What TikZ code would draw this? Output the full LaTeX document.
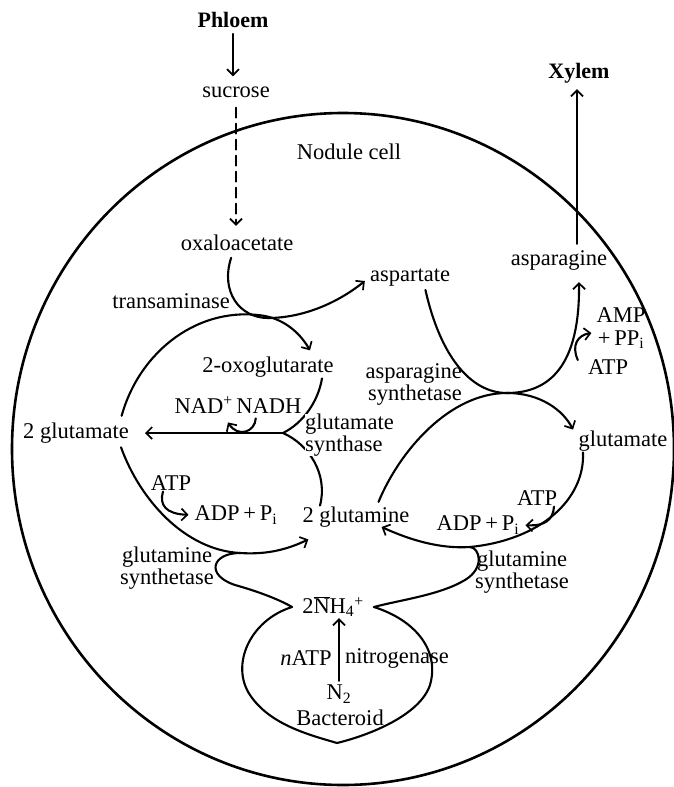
\documentclass[tikz,border=0pt]{standalone}
\usepackage{fontspec}
\setmainfont{Liberation Serif}
\usetikzlibrary{arrows.meta}

\begin{document}
\begin{tikzpicture}[
      x=1pt,y=-1pt,
      lbl/.style={inner sep=1pt,font=\fontsize{22.5}{20}\selectfont,align=center},
      tlbl/.style={inner sep=1pt,font=\fontsize{22}{24}\selectfont\bfseries},
      ln/.style={line width=2.1pt,line cap=round},
      ar/.style={ln,-{Straight Barb[length=6pt,width=12pt,line width=1.7pt]}},
      cell/.style={line width=2.6pt}
    ]
    \fill[white] (0,0) rectangle (673,787);
    \useasboundingbox (0,0) rectangle (673,787);

    % Transport in and out of the cell
    \node(phloem)[tlbl] at (233,20) {Phloem};
    \node(sucrose)[lbl] at (236,92) {sucrose};
    \node(xylem)[tlbl] at (579,73) {Xylem};
    \node(cellname)[lbl] at (349,152) {Nodule cell};

    % Row 1: transaminase and asparagine synthetase
    \node(oxalo)[lbl] at (237,243) {oxaloacetate};
    \node(aspartate)[lbl] at (410,278) {aspartate};
    \node(asparagine)[lbl] at (559,260) {asparagine};
    \node(transam)[lbl] at (171,301) {transaminase};
    \node(oxoglut)[lbl] at (268,367) {2-oxoglutarate};
    \node(asnsyn)[lbl,align=right,anchor=east,font=\fontsize{22.5}{22}\selectfont] at (463,384) {asparagine\\synthetase};
    \node(amp)[lbl,font=\fontsize{22.5}{23}\selectfont] at (621,328) {AMP\\+\,PP\textsubscript{i}};
    \node(atpA)[lbl] at (608,367) {ATP};

    % Row 2: glutamate synthase
    \node(glutL)[lbl] at (76,433) {2 glutamate};
    \node(nad)[lbl] at (238,405) {NAD\textsuperscript{+}\,NADH};
    \node(glutR)[lbl] at (623,441) {glutamate};

    % Row 3: glutamine synthetase
    \node(atpL)[lbl] at (171,483) {ATP};
    \node(adpL)[lbl] at (236,515) {ADP\,+\,P\textsubscript{i}};
    \node(glutamine)[lbl] at (356,517) {2 glutamine};
    \node(atpR)[lbl] at (537,498) {ATP};
    \node(adpR)[lbl] at (478,525) {ADP\,+\,P\textsubscript{i}};
    \node(glnsynL)[lbl] at (167,568) {glutamine\\synthetase};
    \node(glnsynR)[lbl] at (522,572) {glutamine\\synthetase};

    % Bacteroid
    \node(nh)[lbl,inner xsep=10pt] at (333,607) {2$\overline{\hbox{N}}$H\textsubscript{4}\textsuperscript{+}};
    \node(natp)[lbl] at (306,658) {\textit{n}ATP};
    \node(nase)[lbl] at (397,658) {nitrogenase};
    \node(ntwo)[lbl] at (339,694) {N\textsubscript{2}};
    \node(bact)[lbl] at (340,718) {Bacteroid};

    \coordinate(gsfork) at (283,433);
    \coordinate(mergeL) at (240,553);
    \coordinate(mergeR) at (470,547);
    \coordinate(cusp) at (337,743);

    % Nodule cell wall
    \draw[cell] (343,449) ellipse [x radius=331pt,y radius=336pt];

    % Phloem supply and xylem export
    \draw[ar,shorten <=5pt,shorten >=9pt] (phloem.south) -- (phloem.south |- sucrose.north);
    \draw[ar,dash pattern=on 10pt off 6pt,shorten <=9pt,shorten >=8pt] (sucrose.south) -- (sucrose.south |- oxalo.north);
    \draw[ar,shorten <=5pt,shorten >=5pt] ([xshift=-2pt]xylem.south |- asparagine.north) -- ([xshift=-2pt]xylem.south);

    % Transaminase
    \draw[ar,shorten <=6pt] ([xshift=-4pt]oxalo.south) .. controls (220,292) and (240,318) .. (268,318)
      .. controls (300,318) and (335,305) .. ([shift={(-4pt,-3pt)}]aspartate.west);
    \draw[ar,shorten <=6pt,shorten >=6pt] ([xshift=44pt]glutL.north) .. controls (140,350) and (200,305) .. (265,316)
      .. controls (285,320) and (300,333) .. ([xshift=45pt]oxoglut.north);

    % Asparagine synthetase
    \draw[ar,shorten <=2pt] ([xshift=15pt]aspartate.south) .. controls (440,355) and (470,393) .. (507,393)
      .. controls (550,393) and (580,365) .. ([shift={(20pt,-11pt)}]asparagine.south);
    \draw[ar,shorten <=4pt] ([xshift=21pt]glutamine.north) .. controls (400,450) and (450,393) .. (507,393)
      .. controls (540,393) and (563,410) .. ([xshift=-50pt]glutR.north);
    \draw[ar] ([shift={(-9pt,7pt)}]atpA.west) .. controls (571,345) and (578,335) .. ([shift={(-4pt,-5pt)}]amp.west);

    % Glutamate synthase
    \draw[ln] ([xshift=54pt]oxoglut.south) .. controls (318,402) and (303,423) .. (gsfork);
    \draw[ln] ([xshift=-36pt]glutamine.north) .. controls (328,475) and (310,445) .. (gsfork);
    \draw[ar,shorten >=15pt] (gsfork) -- (glutL.east);
    \draw[ar,shorten <=4pt] ([xshift=18pt]nad.south) .. controls (255,432) and (238,438) .. ([shift={(-10pt,-8pt)}]nad.south);
    \node(gsyn)[lbl,align=left,anchor=west,fill=white,inner sep=0pt] at (305,435) {glutamate\\synthase};

    % Glutamine synthetase, left and right
    \draw[ar,shorten <=3pt] ([xshift=44pt]glutL.south) .. controls (140,500) and (185,550) .. (mergeL)
      .. controls (270,555) and (290,548) .. ([shift={(7pt,-11pt)}]glutamine.south west);
    \draw[ar,shorten >=5pt] ([xshift=-8pt]atpL.south) .. controls (159,505) and (166,514) .. (adpL.west);
    \draw[ar] ([xshift=-40pt]glutR.south) .. controls (585,500) and (540,540) .. (mergeR)
      .. controls (440,549) and (410,540) .. ([shift={(-29pt,-10pt)}]glutamine.east);
    \draw[ar,shorten >=5pt] ([xshift=17pt]atpR.south) .. controls (553,520) and (545,526) .. (adpR.east);

    % Lobes from the ammonium
    \draw[ln] (mergeL) .. controls (212,553) and (205,575) .. (235,585) .. controls (260,592) and (280,600) .. (nh.west);
    \draw[ln] (mergeR) .. controls (480,548) and (485,568) .. (465,580) .. controls (440,595) and (400,600) .. (nh.east);

    % Bacteroid membrane and nitrogenase
    \draw[ln] (nh.west) .. controls (250,620) and (230,665) .. (250,695) .. controls (270,725) and (310,735) .. (cusp);
    \draw[ln] (nh.east) .. controls (415,620) and (440,650) .. (430,685) .. controls (420,715) and (370,735) .. (cusp);
    \draw[ar,shorten <=3pt] (ntwo.north) -- (ntwo.north |- nh.south);
  \end{tikzpicture}
\end{document}
